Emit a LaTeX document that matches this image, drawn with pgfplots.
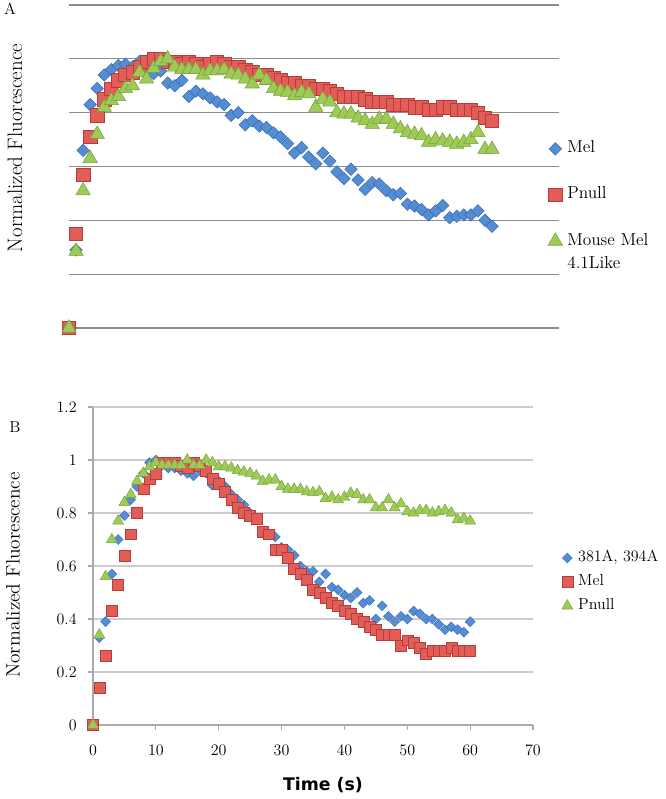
\documentclass[border=0pt]{standalone}
\usepackage{fontspec}
\usepackage{pgfplots}
\pgfplotsset{compat=1.18}
\newfontfamily\dvs{DejaVu Sans}
\definecolor{blueF}{RGB}{84,141,212}
\definecolor{blueD}{RGB}{58,108,178}
\definecolor{redF}{RGB}{226,92,88}
\definecolor{redD}{RGB}{182,62,58}
\definecolor{greenF}{RGB}{158,202,86}
\definecolor{greenD}{RGB}{118,160,58}
\definecolor{gridA}{RGB}{140,140,140}
\definecolor{gridB}{RGB}{205,205,205}
\definecolor{axisB}{RGB}{170,170,170}
\begin{document}
\begin{tikzpicture}
\useasboundingbox (0pt,0pt) rectangle (499.5pt,599.25pt);
% ---------------- Panel A ----------------
\begin{axis}[
  at={(51.75pt,353.25pt)}, anchor=south west, scale only axis,
  width=367.5pt, height=242.25pt,
  xmin=0, xmax=69.5, ymin=0, ymax=1.2,
  axis line style={draw=none},
  xtick=\empty, ytick={0,0.2,0.4,0.6,0.8,1,1.2}, yticklabels={},
  major tick length=0pt,
  ymajorgrids, grid style={color=gridA, line width=0.8pt},
  clip=false,
  legend cell align=left,
  legend image code/.code={\draw[mark repeat=2,mark phase=2] plot coordinates {(0pt,0pt)(5pt,0pt)(10pt,0pt)};},
  legend style={at={(0.9773,0.4118)}, anchor=west, draw=none, fill=none, inner sep=0pt,
    row sep=22.5pt, column sep=3.6pt, font=\fontsize{13}{15}\selectfont,
    nodes={text height=9pt, text depth=3pt, inner sep=0pt}},
]
\addplot[only marks, mark=square*, mark size=3.3pt, mark options={rotate=45, fill=blueF, draw=blueD, line width=0.4pt}] coordinates {
(0,0) (1,0.29) (2,0.66) (3,0.83) (4,0.89) (5,0.94) (6,0.96) (7,0.975) (8,0.98) (9,0.97)
(10,0.99) (11,0.96) (12,0.945) (13,0.955) (14,0.91) (15,0.90) (16,0.92) (17,0.86) (18,0.88) (19,0.87)
(20,0.855) (21,0.84) (22,0.83) (23,0.79) (24,0.80) (25,0.755) (26,0.77) (27,0.75) (28,0.745) (29,0.725)
(30,0.71) (31,0.685) (32,0.65) (33,0.67) (34,0.635) (35,0.61) (36,0.65) (37,0.62) (38,0.58) (39,0.555)
(40,0.59) (41,0.55) (42,0.515) (43,0.54) (44,0.535) (45,0.51) (46,0.495) (47,0.50) (48,0.46) (49,0.453)
(50,0.44) (51,0.42) (52,0.435) (53,0.455) (54,0.41) (55,0.415) (56,0.42) (57,0.42) (58,0.435) (59,0.40)
(60,0.378)
};
\addlegendentry{Mel}
\addplot[only marks, mark=square*, mark size=5pt, mark options={fill=redF, draw=redD, line width=0.4pt}] coordinates {
(0,0) (1,0.35) (2,0.57) (3,0.71) (4,0.79) (5,0.85) (6,0.89) (7,0.92) (8,0.94) (9,0.95)
(10,0.97) (11,0.99) (12,1.00) (13,1.00) (14,0.99) (15,0.99) (16,0.98) (17,0.99) (18,0.98) (19,0.97)
(20,0.98) (21,0.99) (22,0.98) (23,0.97) (24,0.97) (25,0.96) (26,0.95) (27,0.94) (28,0.94) (29,0.93)
(30,0.92) (31,0.91) (32,0.91) (33,0.90) (34,0.90) (35,0.89) (36,0.89) (37,0.88) (38,0.87) (39,0.86)
(40,0.86) (41,0.86) (42,0.85) (43,0.84) (44,0.84) (45,0.84) (46,0.83) (47,0.83) (48,0.83) (49,0.82)
(50,0.82) (51,0.81) (52,0.81) (53,0.82) (54,0.82) (55,0.81) (56,0.81) (57,0.81) (58,0.80) (59,0.78)
(60,0.77)
};
\addlegendentry{Pnull}
\addplot[only marks, mark=triangle*, mark size=6.2pt, mark options={fill=greenF, draw=greenD, line width=0.4pt}] coordinates {
(0,0) (1,0.285) (2,0.51) (3,0.63) (4,0.72) (5,0.82) (6,0.845) (7,0.86) (8,0.89) (9,0.90)
(10,0.95) (11,0.925) (12,0.965) (13,0.99) (14,1.00) (15,0.97) (16,0.96) (17,0.96) (18,0.96) (19,0.94)
(20,0.956) (21,0.956) (22,0.96) (23,0.944) (24,0.94) (25,0.925) (26,0.907) (27,0.94) (28,0.92) (29,0.89)
(30,0.88) (31,0.876) (32,0.863) (33,0.876) (34,0.87) (35,0.82) (36,0.85) (37,0.84) (38,0.80) (39,0.795)
(40,0.795) (41,0.78) (42,0.77) (43,0.757) (44,0.776) (45,0.776) (46,0.757) (47,0.74) (48,0.726) (49,0.72)
(50,0.714) (51,0.69) (52,0.70) (53,0.695) (54,0.69) (55,0.683) (56,0.69) (57,0.70) (58,0.726) (59,0.664)
(60,0.664)
};
\addlegendentry{Mouse Mel}
\end{axis}
\node[anchor=base west, inner sep=0pt, font=\fontsize{13}{15}\selectfont] at (425.25pt,397.5pt) {4.1Like};
\node[rotate=90, font=\fontsize{15.7}{18}\selectfont] at (11.25pt,488.25pt) {Normalized Fluorescence};
\node[font=\fontsize{12}{14}\selectfont] at (7.5pt,592.5pt) {A};
% ---------------- Panel B ----------------
\begin{axis}[
  at={(69.75pt,55.5pt)}, anchor=south west, scale only axis,
  width=330pt, height=238.5pt,
  xmin=0, xmax=70, ymin=0, ymax=1.2,
  axis lines=left, axis line style={-, draw=axisB, line width=0.8pt},
  xtick={0,10,20,30,40,50,60,70}, ytick={0,0.2,0.4,0.6,0.8,1,1.2},
  tick align=outside, major tick length=3.75pt,
  tick style={color=axisB, line width=0.8pt},
  tick label style={font=\fontsize{11.5}{13}\selectfont},
  xticklabel style={yshift=-8pt},
  yticklabel style={xshift=-5pt},
  ymajorgrids, grid style={color=gridB, line width=0.8pt},
  clip=false,
  legend cell align=left,
  legend image code/.code={\draw[mark repeat=2,mark phase=2] plot coordinates {(0pt,0pt)(5pt,0pt)(10pt,0pt)};},
  legend style={at={(1.0648,0.4497)}, anchor=west, draw=none, fill=none, inner sep=0pt,
    row sep=7pt, column sep=4pt, font=\fontsize{12}{14}\selectfont,
    nodes={text height=8.5pt, text depth=2.5pt, inner sep=0pt}},
]
\addplot[only marks, mark=square*, mark size=2.65pt, mark options={rotate=45, fill=blueF, draw=blueD, line width=0.3pt}] coordinates {
(0,0) (1,0.33) (2,0.39) (3,0.57) (4,0.70) (5,0.79) (6,0.85) (7,0.90) (8,0.95) (9,0.99)
(10,1.00) (11,0.98) (12,0.97) (13,0.97) (14,0.96) (15,0.95) (16,0.94) (17,0.96) (18,0.95) (19,0.905)
(20,0.92) (21,0.90) (22,0.87) (23,0.85) (24,0.83) (25,0.80) (26,0.78) (27,0.73) (28,0.72) (29,0.71)
(30,0.67) (31,0.66) (32,0.64) (33,0.60) (34,0.58) (35,0.58) (36,0.54) (37,0.57) (38,0.52) (39,0.51)
(40,0.49) (41,0.48) (42,0.50) (43,0.46) (44,0.47) (45,0.40) (46,0.45) (47,0.41) (48,0.39) (49,0.41)
(50,0.40) (51,0.43) (52,0.42) (53,0.40) (54,0.40) (55,0.38) (56,0.36) (57,0.37) (58,0.36) (59,0.35)
(60,0.39)
};
\addlegendentry{381A, 394A}
\addplot[only marks, mark=square*, mark size=4.1pt, mark options={fill=redF, draw=redD, line width=0.3pt}] coordinates {
(0,0) (1,0.14) (2,0.26) (3,0.43) (4,0.53) (5,0.64) (6,0.72) (7,0.80) (8,0.89) (9,0.93)
(10,0.95) (11,0.99) (12,0.99) (13,0.99) (14,0.98) (15,0.97) (16,0.99) (17,0.98) (18,0.96) (19,0.93)
(20,0.91) (21,0.88) (22,0.85) (23,0.82) (24,0.80) (25,0.79) (26,0.78) (27,0.73) (28,0.72) (29,0.66)
(30,0.66) (31,0.63) (32,0.59) (33,0.57) (34,0.55) (35,0.51) (36,0.50) (37,0.48) (38,0.46) (39,0.45)
(40,0.43) (41,0.42) (42,0.40) (43,0.39) (44,0.37) (45,0.36) (46,0.34) (47,0.34) (48,0.34) (49,0.30)
(50,0.32) (51,0.31) (52,0.29) (53,0.27) (54,0.28) (55,0.28) (56,0.28) (57,0.29) (58,0.28) (59,0.28)
(60,0.28)
};
\addlegendentry{Mel}
\addplot[only marks, mark=triangle*, mark size=4.8pt, mark options={fill=greenF, draw=greenD, line width=0.3pt}] coordinates {
(0,0) (1,0.34) (2,0.56) (3,0.70) (4,0.77) (5,0.84) (6,0.87) (7,0.92) (8,0.95) (9,0.975)
(10,0.99) (11,0.98) (12,0.98) (13,0.98) (14,0.98) (15,1.00) (16,0.98) (17,0.98) (18,1.00) (19,0.99)
(20,0.975) (21,0.975) (22,0.97) (23,0.96) (24,0.955) (25,0.95) (26,0.94) (27,0.92) (28,0.925) (29,0.925)
(30,0.90) (31,0.89) (32,0.89) (33,0.89) (34,0.88) (35,0.877) (36,0.88) (37,0.855) (38,0.86) (39,0.85)
(40,0.86) (41,0.875) (42,0.87) (43,0.85) (44,0.85) (45,0.82) (46,0.82) (47,0.85) (48,0.82) (49,0.835)
(50,0.805) (51,0.80) (52,0.81) (53,0.81) (54,0.80) (55,0.805) (56,0.81) (57,0.80) (58,0.775) (59,0.78)
(60,0.77)
};
\addlegendentry{Pnull}
\end{axis}
\node[rotate=90, font=\fontsize{14.5}{17}\selectfont] at (9.75pt,168pt) {Normalized Fluorescence};
\node[font=\fontsize{12}{14}\selectfont] at (11.25pt,278.6pt) {B};
\node[font=\dvs\bfseries\fontsize{13}{15}\selectfont] at (242.25pt,10.5pt) {Time (s)};
\end{tikzpicture}
\end{document}
